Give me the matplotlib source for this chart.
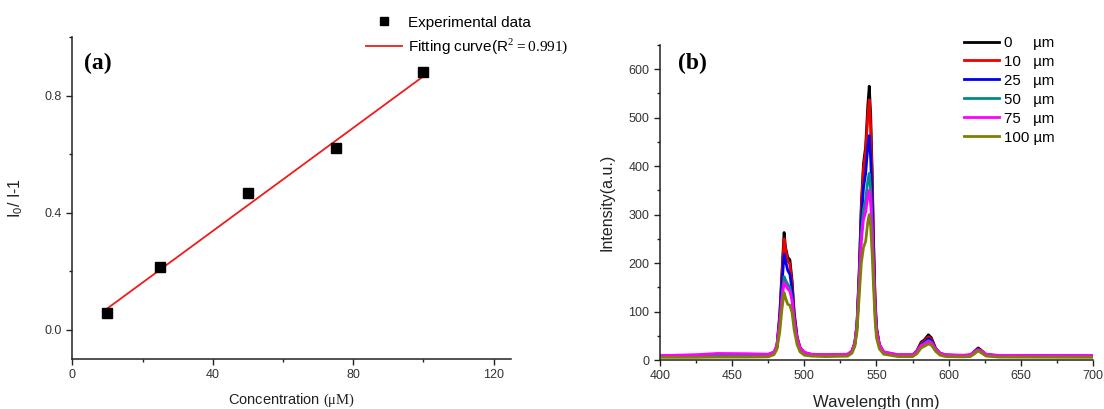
"""
Two-panel figure: (a) I0/I-1 vs concentration with linear fit,
(b) emission spectra at different concentrations
"""
import matplotlib
matplotlib.use("Agg")
import matplotlib.pyplot as plt
from matplotlib.ticker import MultipleLocator

matplotlib.rcParams['font.family'] = ['Liberation Sans', 'DejaVu Sans']
matplotlib.rcParams['mathtext.fontset'] = 'custom'
matplotlib.rcParams['mathtext.rm'] = 'Liberation Serif'
matplotlib.rcParams['mathtext.sf'] = 'Liberation Sans'

# ---- panel (a) data ----
conc = [10, 25, 50, 75, 100]
ratio = [0.056, 0.214, 0.468, 0.621, 0.879]
fit_x = [10, 100]
fit_y = [0.073, 0.866]

# ---- panel (b) data ----
wl = [400, 425, 440, 460, 475, 479, 481, 483, 484.5, 486, 487, 488.5, 490, 491.5,
      493, 495, 497, 500, 505, 515, 530, 533, 535, 536.5, 538, 539.5, 541, 542.5,
      544, 545, 546, 547, 548, 549, 550, 552, 555, 565, 575, 578, 581, 583, 586,
      588, 591, 594, 598, 610, 615, 618, 620.5, 623, 626, 635, 700]

i_0 = [8, 8, 8.5, 8.5, 9, 14, 28, 95, 180, 263, 232, 212, 207, 165,
       98, 48, 26, 15, 11, 10, 11, 18, 35, 75, 180, 320, 405, 440,
       525, 565, 505, 390, 245, 130, 68, 32, 16, 10, 10, 19, 37, 41, 52,
       46, 24, 14, 10, 9, 10, 18, 25, 19, 11, 8.5, 8]
i_10 = [8, 8.5, 9, 9, 9, 14, 27, 90, 172, 250, 228, 205, 198, 157,
        93, 46, 25, 15, 11, 10, 11, 18, 34, 72, 175, 310, 395, 430,
        505, 537, 480, 372, 235, 125, 66, 31, 16, 10, 10, 18, 35, 39, 48,
        43, 23, 14, 10, 9, 10, 17, 23, 18, 11, 8.5, 8]
i_25 = [8, 8.5, 9, 9, 9, 14, 26, 82, 155, 218, 205, 185, 177, 145,
        86, 43, 23, 14, 11, 10, 11, 17, 33, 68, 165, 285, 355, 385,
        440, 463, 415, 325, 210, 115, 62, 30, 15, 10, 10, 17, 32, 36, 44,
        40, 22, 13, 10, 9, 10, 16, 22, 17, 11, 8.5, 8]
i_50 = [8, 8.5, 9, 9, 9, 14, 25, 74, 130, 172, 165, 156, 150, 126,
        78, 40, 22, 14, 11, 10, 11, 17, 32, 65, 155, 260, 310, 330,
        370, 385, 350, 280, 185, 102, 57, 28, 14, 10, 10, 17, 30, 34, 40,
        37, 21, 13, 10, 9, 10, 16, 21, 17, 11, 8.5, 8]
i_75 = [9, 11, 13.5, 13, 12, 17, 31, 76, 125, 160, 155, 147, 142, 124,
        80, 45, 26, 16, 12, 11, 12, 19, 36, 72, 155, 245, 290, 305,
        338, 350, 322, 265, 185, 108, 62, 32, 17, 11, 11, 18, 30, 33, 38,
        36, 23, 14, 11, 10, 11, 17, 21, 18, 12, 9.5, 9]
i_100 = [5.5, 5.5, 6, 6, 6.5, 11, 22, 58, 105, 139, 128, 115, 113, 98,
         62, 32, 17, 10, 8, 7, 8, 14, 28, 58, 130, 200, 232, 245,
         285, 300, 275, 220, 150, 84, 46, 23, 12, 7, 7, 13, 25, 28, 33,
         31, 18, 10, 7, 6.5, 7, 13, 19, 14, 8, 6, 5.5]

series = [i_0, i_10, i_25, i_50, i_75, i_100]
labels = ["0     µm", "10   µm", "25   µm", "50   µm", "75   µm", "100 µm"]
colors = ["black", "#ee0000", "#0000ee", "#008b8b", "#ff00ff", "#808000"]

TICK_COLOR = "#333333"


def style_axis(ax):
    for side in ("top", "right"):
        ax.spines[side].set_visible(False)
    for side in ("left", "bottom"):
        ax.spines[side].set_linewidth(1.1)
        ax.spines[side].set_color("#222222")
    ax.tick_params(which="major", direction="out", length=4, width=1,
                   labelsize=9, labelcolor=TICK_COLOR, color="#222222")
    ax.tick_params(which="minor", direction="out", length=2.5, width=1,
                   color="#222222")


fig = plt.figure(figsize=(11.04, 4.09), dpi=100)

# ---------------- (a) ----------------
ax1 = fig.add_axes([0.0655, 0.1222, 0.3976, 0.7873])
ax1.plot(fit_x, fit_y, color="#ee1c1c", linewidth=1.3,
         label="Fitting curve(R$^{\\mathrm{2}}$$\\mathrm{=0.991)}$")
ax1.plot(conc, ratio, linestyle="none", marker="s", markersize=7,
         color="black", label="Experimental data")
ax1.set_xlim(0, 125)
ax1.set_ylim(-0.1, 1.0)
ax1.xaxis.set_major_locator(MultipleLocator(40))
ax1.xaxis.set_minor_locator(MultipleLocator(20))
ax1.yaxis.set_major_locator(MultipleLocator(0.4))
ax1.yaxis.set_minor_locator(MultipleLocator(0.2))
ax1.yaxis.set_major_formatter(matplotlib.ticker.FormatStrFormatter("%.1f"))
style_axis(ax1)
ax1.set_xlabel("Concentration $\\mathrm{(μM)}$", fontsize=10.5, color="#222222")
ax1.xaxis.set_label_coords(0.5, -0.1)
ax1.set_ylabel("I$_{\\mathsf{0}}$/ I-1", fontsize=11.5, color="#222222")
ax1.yaxis.set_label_coords(-0.107, 0.5)

h, l = ax1.get_legend_handles_labels()
fig.legend([h[1], h[0]], [l[1], l[0]], loc="upper left",
           bbox_to_anchor=(0.3315, 0.962), frameon=False, fontsize=11,
           borderpad=0, borderaxespad=0, handlelength=2.35,
           handletextpad=0.4, labelspacing=0.45, markerscale=0.85)

fig.text(0.076, 0.846, "(a)", family="Liberation Serif", weight="bold",
         fontsize=17, va="center", ha="left")

# ---------------- (b) ----------------
ax2 = fig.add_axes([0.5978, 0.1198, 0.3922, 0.7702])
for y, lab, c in zip(series, labels, colors):
    ax2.plot(wl, y, color=c, linewidth=2.0, label=lab)
ax2.set_xlim(400, 700)
ax2.set_ylim(0, 650)
ax2.xaxis.set_major_locator(MultipleLocator(50))
ax2.xaxis.set_minor_locator(MultipleLocator(25))
ax2.yaxis.set_major_locator(MultipleLocator(100))
ax2.yaxis.set_minor_locator(MultipleLocator(50))
style_axis(ax2)
ax2.set_xlabel("Wavelength (nm)", fontsize=12, color="#222222")
ax2.xaxis.set_label_coords(0.5, -0.112)
ax2.set_ylabel("Intensity(a.u.)", fontsize=11.5, color="#222222")
ax2.yaxis.set_label_coords(-0.106, 0.5)

leg = fig.legend(*ax2.get_legend_handles_labels(), loc="upper left",
                 bbox_to_anchor=(0.873, 0.9125), frameon=False, fontsize=10.8,
                 borderpad=0, borderaxespad=0, handlelength=2.33,
                 handletextpad=0.37, labelspacing=0.33)
for line in leg.get_lines():
    line.set_linewidth(2)

fig.text(0.614, 0.846, "(b)", family="Liberation Serif", weight="bold",
         fontsize=17, va="center", ha="left")

fig.savefig("out.png", dpi=100)
